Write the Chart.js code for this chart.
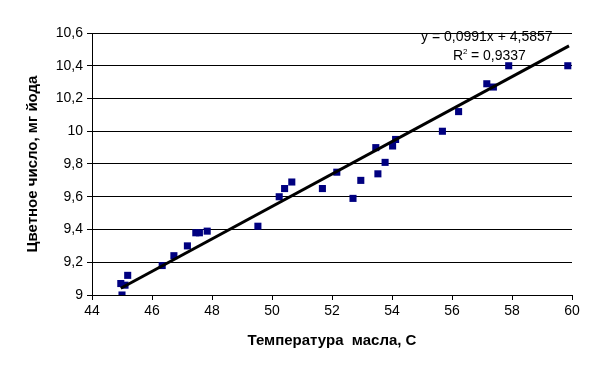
<!DOCTYPE html>
<html><head><meta charset="utf-8">
<script src="https://cdn.jsdelivr.net/npm/chart.js@4/dist/chart.umd.min.js"></script>
<style>html,body{margin:0;padding:0;background:#fff}#w{width:604px;height:381px}</style>
</head><body><div id="w"><canvas id="c" width="604" height="381"></canvas></div>
<script>
const temperature = [44.96,45.10,45.19,45.00,46.34,46.73,47.18,47.46,47.58,47.84,49.53,50.24,50.42,50.66,51.68,52.16,52.70,52.96,53.53,53.46,53.77,54.02,54.12,55.68,56.22,57.16,57.38,57.89,59.86];
const colorNumber = [9.07,9.06,9.12,9.00,9.18,9.24,9.30,9.38,9.38,9.39,9.42,9.60,9.65,9.69,9.65,9.75,9.59,9.70,9.74,9.90,9.81,9.91,9.95,10.00,10.12,10.29,10.27,10.40,10.40];
const trendSlope = 0.0991;
const trendIntercept = 4.5857;
const trendRange = [44.96, 59.9];
const eqLabel = "y = 0,0991x + 4,5857";
const r2Label = "0,9337";
const xTitle = "Температура  масла, С";
const yTitle = "Цветное число, мг йода";

Chart.defaults.font.family = "'Liberation Sans', Arial, sans-serif";
Chart.defaults.color = '#000';

const points = temperature.map((t,i)=>({x:t,y:colorNumber[i]}));
const trend = trendRange.map(x=>({x:x,y:trendSlope*x+trendIntercept}));
const fmt = v => String(Math.round(v*10)/10).replace('.',',');

const eqPlugin = {
  id:'eq',
  afterDatasetsDraw(chart){
    const ctx = chart.ctx;
    ctx.save();
    ctx.fillStyle = '#000';
    ctx.font = "14px 'Liberation Sans', Arial, sans-serif";
    ctx.textBaseline = 'middle';
    ctx.textAlign = 'left';
    ctx.fillText(eqLabel, 421, 37);
    ctx.fillText('R', 453, 56);
    const rw = ctx.measureText('R').width;
    ctx.font = "8px 'Liberation Sans', Arial, sans-serif";
    ctx.fillText('2', 453+rw, 52);
    ctx.font = "14px 'Liberation Sans', Arial, sans-serif";
    ctx.fillText(' = ' + r2Label, 453+rw+4, 56);
    ctx.restore();
  }
};

new Chart(document.getElementById('c'), {
  type:'scatter',
  data:{datasets:[
    {data:points, pointStyle:'rect', pointRadius:5, backgroundColor:'#000080', borderColor:'#000080', borderWidth:0, order:2},
    {type:'line', data:trend, showLine:true, borderColor:'#000', borderWidth:3, pointRadius:0, fill:false, order:1}
  ]},
  options:{
    responsive:false, animation:false,
    layout:{padding:{top:33, right:32, left:20, bottom:27}},
    plugins:{legend:{display:false}, tooltip:{enabled:false}},
    scales:{
      x:{type:'linear', min:44, max:60,
        ticks:{stepSize:2, font:{size:14}, padding:3, maxRotation:0},
        grid:{drawOnChartArea:false, drawTicks:true, tickLength:5, color:'#000'},
        border:{display:true, color:'#000', width:1},
        title:{display:true, text:xTitle, font:{size:15, weight:'bold'}, padding:{top:12}},
        afterFit(s){ s.height = 59; }
      },
      y:{type:'linear', min:9, max:10.6,
        ticks:{stepSize:0.2, font:{size:14}, padding:4, callback:v=>fmt(v)},
        grid:{color:'#000', lineWidth:1, tickLength:5},
        border:{display:true, color:'#000', width:1},
        title:{display:true, text:yTitle, font:{size:15, weight:'bold'}, padding:{bottom:10}},
        afterFit(s){ s.width = 72; }
      }
    }
  },
  plugins:[eqPlugin]
});
</script></body></html>
